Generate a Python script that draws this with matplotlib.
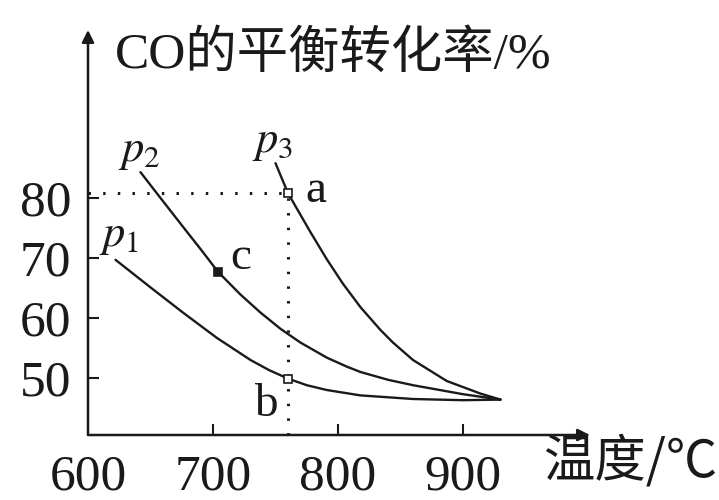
import numpy as np
import matplotlib
matplotlib.use('Agg')
import matplotlib.pyplot as plt

plt.rcParams['font.family'] = ['Liberation Serif', 'Noto Sans CJK SC']
plt.rcParams['mathtext.fontset'] = 'stix'

# valori (temperatura in °C, conversione in %)
t_p1 = [622, 650, 676, 703, 730, 745, 760, 775, 791, 818, 860, 900, 930]
y_p1 = [69.7, 65.1, 60.9, 56.7, 53.0, 51.3, 49.9, 48.8, 48.0, 47.1, 46.5, 46.3, 46.4]

t_p2 = [642, 658, 676, 690, 704, 722, 738, 754, 770, 791, 807, 818, 840, 860, 900, 930]
y_p2 = [84.3, 80.0, 75.2, 71.5, 67.7, 63.9, 60.9, 58.2, 55.9, 53.4, 51.9, 51.0,
        49.7, 48.8, 47.3, 46.4]

t_p3 = [750, 760, 778, 791, 804, 818, 834, 844, 860, 887, 914, 930]
y_p3 = [85.8, 80.8, 74.3, 69.8, 65.7, 61.8, 58.0, 55.9, 53.0, 49.5, 47.4, 46.4]

punti = {'a': (760, 80.8), 'b': (760, 49.9), 'c': (704, 67.7)}

x_ticks = [600, 700, 800, 900]
y_ticks = [50, 60, 70, 80]

fig = plt.figure(figsize=(7.19, 5.0), dpi=100)
ax = fig.add_axes([88/719, 65/500, 502/719, 405/500])
ax.set_xlim(600, 1001.6)
ax.set_ylim(40.5, 108)

col = '#1a1a1a'
for t, y in [(t_p1, y_p1), (t_p2, y_p2), (t_p3, y_p3)]:
    ax.plot(t, y, color=col, lw=1.7, solid_capstyle='round', solid_joinstyle='round')

# linee tratteggiate verso il punto a
ax.plot([600, punti['a'][0]], [punti['a'][1]] * 2, color=col, lw=2.2,
        linestyle=(0, (0.8, 4)))
ax.plot([punti['a'][0]] * 2, [40.5, punti['a'][1]], color=col, lw=2.2,
        linestyle=(0, (0.8, 4)))

for nome, (px, py) in punti.items():
    fc = col if nome == 'c' else 'white'
    ax.plot(px, py, marker='s', ms=6, mfc=fc, mec=col, mew=1.2, zorder=5)

# etichette
ax.text(782, 81.2, 'a', fontsize=34, ha='center', va='center', color=col)
ax.text(742, 45.5, 'b', fontsize=34, ha='center', va='center', color=col)
ax.text(722, 70.0, 'c', fontsize=34, ha='center', va='center', color=col)
ax.text(641, 87.7, r'$p_2$', fontsize=32, ha='center', va='center', color=col)
ax.text(748, 89.2, r'$p_3$', fontsize=32, ha='center', va='center', color=col)
ax.text(625, 73.5, r'$p_1$', fontsize=32, ha='center', va='center', color=col)

# assi con frecce
for s in ax.spines.values():
    s.set_visible(False)
ax.annotate('', xy=(1, 0), xytext=(0, 0), xycoords='axes fraction',
            arrowprops=dict(arrowstyle='-|>', color=col, lw=1.8,
                            mutation_scale=18, shrinkA=0, shrinkB=0))
ax.annotate('', xy=(0, 1), xytext=(0, 0), xycoords='axes fraction',
            arrowprops=dict(arrowstyle='-|>', color=col, lw=1.8,
                            mutation_scale=18, shrinkA=0, shrinkB=0))

ax.set_xticks(x_ticks)
ax.set_yticks(y_ticks)
ax.tick_params(direction='in', length=8, width=1.5, color=col,
               labelsize=37, labelcolor=col)
ax.tick_params(axis='x', pad=14)
ax.tick_params(axis='y', pad=12)
ax.xaxis.get_major_ticks()[0].tick1line.set_visible(False)

fig.text(115/719, 1 - 55/500, 'CO的平衡转化率/%', fontsize=37,
         ha='left', va='center', color=col)
fig.text(543/719, 1 - 462/500, '温度/℃', fontsize=37,
         ha='left', va='center', color=col, family=['Noto Sans CJK SC'])

fig.savefig('out.png', dpi=100)
